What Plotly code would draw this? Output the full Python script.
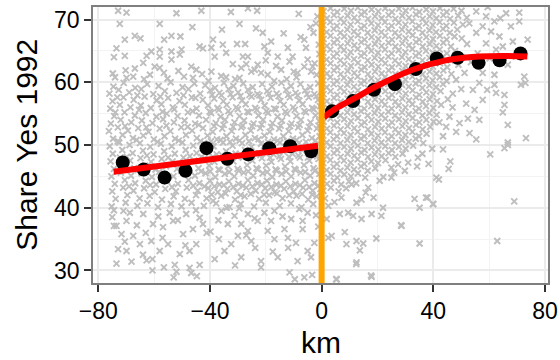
import plotly.graph_objects as go

# ---- binned means (black dots) ----
bin_km_left = [-71.25, -63.75, -56.25, -48.75, -41.25, -33.75, -26.25, -18.75, -11.25, -3.75]
bin_share_left = [47.2, 46.1, 44.8, 45.9, 49.5, 47.8, 48.5, 49.5, 49.8, 49.0]
bin_km_right = [3.75, 11.25, 18.75, 26.25, 33.75, 41.25, 48.75, 56.25, 63.75, 71.25]
bin_share_right = [55.4, 57.0, 58.8, 59.7, 62.1, 63.8, 63.9, 63.1, 63.5, 64.6]

# ---- fitted lines (red) ----
fit_km_left = [-74.5, -37.5, -1.3]
fit_share_left = [45.75, 47.85, 49.88]
fit_km_right = [0.8, 5.0, 11.2, 20.7, 32.6, 44.5, 56.4, 65.0, 73.7]
fit_share_right = [54.4, 55.8, 57.3, 59.6, 62.0, 63.5, 64.1, 64.2, 64.1]

cutoff_km = 0
x_ticks = [-80, -40, 0, 40, 80]
y_ticks = [30, 40, 50, 60, 70]

left_upper = [
    (-72.9,71.4),(-69.9,71.1),(-52.0,71.0),(-43.1,71.4),(-72.3,69.3),(-58.0,69.3),(-46.3,68.8),
    (-70.5,66.8),(-66.9,67.4),(-64.9,67.0),(-56.4,66.8),(-53.8,67.4),(-50.6,67.3),(-73.5,65.4),
    (-74.4,64.0),(-70.5,64.2),(-62.7,64.2),(-61.0,64.9),(-58.0,65.2),(-58.0,64.1),(-53.8,64.9),
    (-53.8,63.6),(-50.2,65.2),(-50.8,64.4),(-43.7,65.7),(-42.5,65.4),(-66.9,62.2),(-63.9,63.1),
    (-59.8,62.5),(-58.0,62.3),(-61.5,61.2),(-69.9,60.7),(-67.5,60.9),(-46.7,62.5),(-44.9,62.0),
    (-46.1,60.7),(-74.8,61.4),(-55.2,60.6),(-51.3,61.8),
    (-26.4,71.8),(-23.1,71.4),(-35.7,68.4),(-29.4,69.3),(-23.5,68.6),(-21.1,67.9),(-2.0,69.4),
    (-2.9,67.9),(-35.4,66.0),(-30.3,66.1),(-27.4,66.1),(-20.5,65.7),(-18.1,66.5),(-19.3,64.7),
    (-12.1,65.5),(-6.2,66.8),(-5.6,65.5),(-10.4,64.1),(-15.7,64.1),(-28.2,64.1),(-26.4,64.1),
    (-38.3,64.1),(-34.2,64.7),(-39.5,65.5),(-38.9,66.8),(-28.8,62.3),(-22.9,62.8),(-24.0,62.0),
    (-16.3,62.6),(-11.5,63.3),(-5.0,63.6),(-3.2,62.5),(-3.8,61.7),(-39.5,61.7),(-36.0,61.0),
    (-34.2,60.8),(-29.4,60.7),(-25.2,61.7),(-21.7,61.5),(-19.3,61.2),(-14.5,62.0),(-8.6,61.5),
    (-6.2,62.5),(-1.5,70.5),(-4.0,68.8),(-1.0,66.0),(-7.5,67.2),(-0.8,64.5),(-2.5,63.0),
    (-9.0,60.8),(-12.5,60.5),(-17.0,60.2),(-31.8,62.9),(-13.6,67.8),(-8.2,70.9),(-32.5,71.2),
    (-74.0,60.8),(-70.2,61.9),(-63.6,60.5),(-56.5,61.5),(-49.3,60.9),(-42.8,61.3),(-40.5,60.2),
    (-31.0,60.5),(-27.0,62.9),(-20.0,63.5),(-10.0,61.7),(-1.8,61.2),
]

left_dense = [
    (-74.6,59.3),(-70.9,59.9),(-66.8,59.1),(-62.5,59.7),(-58.4,59.4),(-54.1,60.0),(-49.8,59.2),(-45.6,59.8),(-41.7,59.5),(-38.2,59.1),(-35.0,59.9),(-31.6,59.4),(-28.1,59.8),(-24.7,59.2),(-21.3,59.7),(-17.8,59.3),(-14.4,59.9),(-11.0,59.4),(-7.6,59.7),(-4.1,59.2),(-1.2,59.8),
    (-76.0,58.2),(-72.7,58.8),(-68.9,58.4),(-64.6,58.9),(-60.3,58.1),(-56.2,58.6),(-52.0,58.3),(-47.7,58.9),(-43.5,58.2),(-39.9,58.7),(-36.6,58.3),(-33.3,58.9),(-29.9,58.4),(-26.4,58.8),(-23.0,58.1),(-19.5,58.6),(-16.1,58.2),(-12.7,58.8),(-9.3,58.3),(-5.9,58.7),(-2.6,58.1),
    (-74.9,57.0),(-71.0,57.6),(-67.3,57.2),(-63.4,57.7),(-59.1,57.1),(-55.0,57.5),(-50.9,57.0),(-46.5,57.6),(-42.6,57.2),(-38.5,57.4),(-35.2,57.0),(-31.9,57.6),(-28.5,57.1),(-25.1,57.7),(-21.7,57.2),(-18.3,57.5),(-14.8,57.0),(-11.4,57.6),(-8.0,57.1),(-4.6,57.6),(-1.3,57.2),
    (-75.7,55.8),(-72.3,56.4),(-68.5,56.0),(-64.8,56.3),(-61.2,55.9),(-57.4,56.5),(-53.3,56.0),(-49.0,56.4),(-44.8,55.8),(-40.7,56.3),(-37.3,55.9),(-34.0,56.4),(-30.6,56.0),(-27.2,56.5),(-23.8,55.9),(-20.4,56.3),(-17.0,55.8),(-13.6,56.4),(-10.2,56.0),(-6.8,56.5),(-3.4,55.9),(-0.6,56.2),
    (-74.3,54.6),(-70.6,55.2),(-66.9,54.7),(-63.0,55.1),(-59.2,54.5),(-55.5,55.0),(-51.6,54.6),(-47.9,55.2),(-43.9,54.7),(-39.6,55.1),(-36.2,54.5),(-32.8,55.0),(-29.4,54.6),(-26.0,55.2),(-22.6,54.7),(-19.2,55.1),(-15.8,54.5),(-12.4,55.0),(-9.0,54.6),(-5.6,55.2),(-2.2,54.7),
    (-75.5,53.4),(-72.0,54.0),(-68.2,53.6),(-64.4,53.9),(-60.6,53.5),(-56.8,54.1),(-52.9,53.6),(-49.1,53.9),(-45.3,53.4),(-41.4,54.0),(-37.9,53.5),(-34.6,54.0),(-31.2,53.6),(-27.8,53.9),(-24.4,53.4),(-21.0,54.0),(-17.6,53.5),(-14.2,53.9),(-10.8,53.4),(-7.4,54.0),(-4.0,53.6),(-0.9,53.8),
    (-76.2,52.2),(-73.0,52.8),(-69.4,52.3),(-65.7,52.7),(-62.0,52.1),(-58.0,52.6),(-54.2,52.2),(-50.3,52.8),(-46.4,52.3),(-42.5,52.7),(-39.0,52.1),(-35.6,52.6),(-32.2,52.2),(-28.8,52.8),(-25.4,52.3),(-22.0,52.7),(-18.6,52.1),(-15.2,52.6),(-11.8,52.2),(-8.4,52.8),(-5.0,52.3),(-1.7,52.6),
    (-74.7,51.0),(-71.3,51.6),(-67.6,51.1),(-63.9,51.5),(-60.1,50.9),(-56.3,51.4),(-52.5,51.0),(-48.6,51.6),(-44.7,51.1),(-40.9,51.5),(-37.5,50.9),(-34.1,51.4),(-30.7,51.0),(-27.3,51.6),(-23.9,51.1),(-20.5,51.5),(-17.1,50.9),(-13.7,51.4),(-10.3,51.0),(-6.9,51.6),(-3.5,51.1),(-0.7,51.4),
    (-75.9,49.8),(-72.5,50.4),(-68.8,50.0),(-65.1,50.3),(-61.4,49.7),(-57.6,50.2),(-53.7,49.8),(-49.9,50.4),(-46.0,49.9),(-42.1,50.3),(-38.7,49.8),(-35.3,50.4),(-31.9,49.9),(-28.5,50.3),(-25.1,49.7),(-21.7,50.2),(-18.3,49.8),(-14.9,50.4),(-11.5,49.9),(-8.1,50.3),(-4.7,49.8),(-1.4,50.2),
    (-74.8,48.6),(-71.4,49.2),(-67.7,48.7),(-64.0,49.1),(-60.2,48.5),(-56.4,49.0),(-52.6,48.6),(-48.7,49.2),(-44.8,48.7),(-41.0,49.1),(-37.6,48.5),(-34.2,49.0),(-30.8,48.6),(-27.4,49.2),(-24.0,48.7),(-20.6,49.1),(-17.2,48.5),(-13.8,49.0),(-10.4,48.6),(-7.0,49.2),(-3.6,48.7),(-0.5,49.0),
    (-75.6,47.4),(-72.2,48.0),(-68.6,47.5),(-64.9,47.9),(-61.1,47.3),(-57.3,47.8),(-53.4,47.4),(-49.5,48.0),(-45.7,47.5),(-41.9,47.9),(-38.4,47.3),(-35.0,47.8),(-31.6,47.4),(-28.2,48.0),(-24.8,47.5),(-21.4,47.9),(-18.0,47.3),(-14.6,47.8),(-11.2,47.4),(-7.8,48.0),(-4.4,47.5),(-1.1,47.8),
    (-74.4,46.2),(-70.8,46.8),(-67.1,46.3),(-63.3,46.7),(-59.5,46.1),(-55.7,46.6),(-51.8,46.2),(-48.0,46.8),(-44.1,46.3),(-40.3,46.7),(-36.9,46.1),(-33.5,46.6),(-30.1,46.2),(-26.7,46.8),(-23.3,46.3),(-19.9,46.7),(-16.5,46.1),(-13.1,46.6),(-9.7,46.2),(-6.3,46.8),(-2.9,46.3),
    (-75.3,45.0),(-71.9,45.6),(-68.3,45.1),(-64.5,45.5),(-60.8,44.9),(-57.0,45.4),(-53.1,45.0),(-49.2,45.6),(-45.4,45.1),(-41.6,45.5),(-38.1,44.9),(-34.7,45.4),(-31.3,45.0),(-27.9,45.6),(-24.5,45.1),(-21.1,45.5),(-17.7,44.9),(-14.3,45.4),(-10.9,45.0),(-7.5,45.6),(-4.1,45.1),(-0.8,45.4),
    (-74.1,43.8),(-70.5,44.4),(-66.8,43.9),(-63.0,44.3),(-59.3,43.7),(-55.4,44.2),(-51.5,43.8),(-47.7,44.4),(-43.8,43.9),(-40.0,44.3),(-36.6,43.7),(-33.2,44.2),(-29.8,43.8),(-26.4,44.4),(-23.0,43.9),(-19.6,44.3),(-16.2,43.7),(-12.8,44.2),(-9.4,43.8),(-6.0,44.4),(-2.6,43.9),
    (-75.0,42.6),(-71.1,43.2),(-67.4,42.7),(-63.6,43.1),(-59.8,42.5),(-56.0,43.0),(-52.2,42.6),(-48.3,43.2),(-44.4,42.7),(-40.6,43.1),(-37.2,42.5),(-33.8,43.0),(-30.4,42.6),(-27.0,43.2),(-23.6,42.7),(-20.2,43.1),(-16.8,42.5),(-13.4,43.0),(-10.0,42.6),(-6.6,43.2),(-3.2,42.7),(-0.4,43.0),
    (-73.8,41.4),(-69.6,42.0),(-65.2,41.5),(-61.6,41.9),(-57.2,41.3),(-53.0,41.8),(-49.0,41.4),(-45.0,42.0),(-41.2,41.5),(-36.0,41.9),(-31.0,41.3),(-27.6,41.8),(-22.4,41.4),(-18.8,42.0),(-14.0,41.5),(-9.0,41.9),(-4.8,41.3),(-1.8,41.8),
    (-75.2,40.2),(-70.2,40.8),(-66.0,40.3),(-62.4,40.7),(-58.6,40.1),(-54.0,40.6),(-50.2,40.2),(-46.6,40.8),(-42.2,40.3),(-37.8,40.7),(-33.0,40.1),(-29.0,40.6),(-24.2,40.2),(-20.0,40.8),(-15.0,40.3),(-11.0,40.7),(-7.2,40.1),(-3.0,40.6),
]

left_fill = [
    (-39.2,58.0),(-35.9,57.9),(-32.6,58.1),(-29.1,57.8),(-25.8,58.0),(-22.3,57.9),(-18.9,58.2),(-15.4,57.8),(-12.0,58.0),(-8.6,57.9),(-5.2,58.1),(-1.9,57.8),
    (-40.1,55.3),(-36.8,55.6),(-33.4,55.4),(-30.0,55.7),(-26.6,55.3),(-23.2,55.6),(-19.8,55.4),(-16.4,55.7),(-13.0,55.3),(-9.6,55.6),(-6.2,55.4),(-2.8,55.7),
    (-38.5,53.0),(-35.1,53.2),(-31.7,52.9),(-28.3,53.1),(-24.9,53.0),(-21.5,53.3),(-18.1,52.9),(-14.7,53.1),(-11.3,53.0),(-7.9,53.2),(-4.5,52.9),(-1.1,53.1),
    (-39.6,50.6),(-36.2,50.8),(-32.8,50.5),(-29.4,50.7),(-26.0,50.6),(-22.6,50.9),(-19.2,50.5),(-15.8,50.7),(-12.4,50.6),(-9.0,50.8),(-5.6,50.5),(-2.2,50.7),
    (-38.9,48.1),(-35.5,48.3),(-32.1,48.0),(-28.7,48.2),(-25.3,48.1),(-21.9,48.4),(-18.5,48.0),(-15.1,48.2),(-11.7,48.1),(-8.3,48.3),(-4.9,48.0),(-1.6,48.2),
    (-39.9,45.8),(-36.5,46.0),(-33.1,45.7),(-29.7,45.9),(-26.3,45.8),(-22.9,46.1),(-19.5,45.7),(-16.1,45.9),(-12.7,45.8),(-9.3,46.0),(-5.9,45.7),(-2.4,45.9),
    (-38.4,43.4),(-35.0,43.6),(-31.6,43.3),(-28.2,43.5),(-24.8,43.4),(-21.4,43.7),(-18.0,43.3),(-14.6,43.5),(-11.2,43.4),(-7.8,43.6),(-4.4,43.3),(-1.2,43.5),
    (-39.4,42.1),(-34.4,42.3),(-29.0,42.0),(-25.4,42.2),(-20.6,42.1),(-16.0,42.3),(-11.6,42.0),(-7.0,42.2),(-3.4,42.1),
    (-73.2,57.6),(-66.0,57.9),(-57.8,57.7),(-49.5,57.9),(-45.2,57.5),
    (-73.9,55.2),(-65.4,55.6),(-57.0,55.3),(-52.8,55.7),(-46.2,55.4),
    (-70.4,53.0),(-62.8,52.8),(-55.6,53.1),(-48.0,52.9),(-44.0,53.2),
    (-73.0,50.6),(-66.3,50.8),(-58.8,50.5),(-51.2,50.7),(-43.4,50.6),
    (-69.8,48.1),(-62.6,48.3),(-55.0,48.0),(-47.2,48.2),(-43.0,48.1),
    (-73.0,45.8),(-65.8,46.0),(-58.2,45.7),(-50.4,45.9),(-43.2,45.8),
    (-69.0,43.4),(-61.4,43.6),(-53.6,43.3),(-46.0,43.5),(-42.0,43.4),
]

left_lower = [
    (-73.5,37.1),(-69.9,37.9),(-71.7,35.8),(-67.5,35.5),(-72.9,33.4),(-69.9,33.1),(-73.5,31.1),
    (-68.1,31.4),(-62.7,31.6),(-60.6,31.8),(-60.6,30.0),(-56.5,30.5),(-52.6,30.9),(-52.0,29.8),
    (-47.3,30.4),(-46.7,29.6),(-43.7,30.9),(-65.1,34.2),(-61.0,34.7),(-58.0,33.1),(-55.0,34.2),
    (-50.8,32.6),(-47.3,33.1),(-44.9,34.2),(-60.4,37.4),(-56.8,36.9),(-53.2,37.9),(-49.6,35.8),
    (-46.1,36.6),(-42.5,37.4),(-63.9,39.0),(-68.7,39.2),(-54.4,39.2),(-48.5,39.0),(-43.7,38.4),
    (-74.4,39.6),(-74.4,37.1),(-53.0,28.9),(-44.7,29.1),
    (-38.9,41.1),(-35.9,39.5),(-33.6,37.4),(-30.0,35.5),(-28.8,37.4),(-26.4,36.3),(-22.9,37.9),
    (-19.3,36.3),(-16.9,35.0),(-12.1,35.2),(-9.2,34.4),(-6.8,36.6),(-5.0,33.1),(-3.8,32.1),
    (-34.8,33.1),(-38.3,31.8),(-28.8,32.1),(-21.7,31.5),(-21.7,30.5),(-15.7,32.1),(-8.6,31.5),
    (-2.6,34.4),(-6.2,28.9),(-9.6,28.6),(-11.5,29.7),(-25.2,34.7),(-32.4,34.2),(-13.3,36.6),
    (-10.9,38.2),(-18.1,37.9),(-26.4,39.0),(-31.2,38.7),(-16.9,39.5),(-5.0,39.2),(-6.8,37.9),
    (-39.8,36.2),(-36.8,35.0),(-23.8,33.6),(-1.2,37.0),(-3.4,29.3),
    (-75.0,38.5),(-71.0,39.5),(-66.2,37.2),(-63.0,36.0),(-58.5,38.6),(-51.5,38.0),(-45.0,39.6),
    (-41.2,36.0),(-57.0,35.2),(-64.0,32.5),(-70.5,34.6),(-48.8,34.0),
    (-37.0,38.0),(-34.0,40.0),(-29.5,39.9),(-24.0,38.3),(-20.5,39.2),(-14.0,38.6),(-8.0,39.8),
    (-2.0,38.8),(-27.0,35.6),(-17.5,33.0),(-12.0,33.6),(-31.0,30.8),
]

right_dense = [
    (0.7,71.3),(3.2,71.8),(5.6,71.2),(8.1,71.7),(10.5,71.4),(13.0,71.9),(15.4,71.2),(17.9,71.6),(20.3,71.3),(22.8,71.8),(25.2,71.2),(27.7,71.7),(30.1,71.4),(32.6,71.9),(35.0,71.2),(37.5,71.6),(39.9,71.3),(42.4,71.8),(44.8,71.2),(47.3,71.7),(50.1,71.4),
    (1.9,70.2),(4.4,70.7),(6.8,70.1),(9.3,70.6),(11.7,70.3),(14.2,70.8),(16.6,70.1),(19.1,70.5),(21.5,70.2),(24.0,70.7),(26.4,70.1),(28.9,70.6),(31.3,70.3),(33.8,70.8),(36.2,70.1),(38.7,70.5),(41.1,70.2),(43.6,70.7),(46.0,70.1),(48.9,70.6),(52.0,70.3),
    (0.6,69.1),(3.1,69.6),(5.5,69.0),(8.0,69.5),(10.4,69.2),(12.9,69.7),(15.3,69.0),(17.8,69.4),(20.2,69.1),(22.7,69.6),(25.1,69.0),(27.6,69.5),(30.0,69.2),(32.5,69.7),(34.9,69.0),(37.4,69.4),(39.8,69.1),(42.3,69.6),(44.7,69.0),(47.4,69.5),(50.6,69.2),
    (1.8,68.0),(4.3,68.5),(6.7,67.9),(9.2,68.4),(11.6,68.1),(14.1,68.6),(16.5,67.9),(19.0,68.3),(21.4,68.0),(23.9,68.5),(26.3,67.9),(28.8,68.4),(31.2,68.1),(33.7,68.6),(36.1,67.9),(38.6,68.3),(41.0,68.0),(43.5,68.5),(45.9,67.9),(48.6,68.4),
    (0.7,66.9),(3.2,67.4),(5.6,66.8),(8.1,67.3),(10.5,67.0),(13.0,67.5),(15.4,66.8),(17.9,67.2),(20.3,66.9),(22.8,67.4),(25.2,66.8),(27.7,67.3),(30.1,67.0),(32.6,67.5),(35.0,66.8),(37.5,67.2),(39.9,66.9),(42.4,67.4),(44.8,66.8),(47.6,67.3),(50.2,67.0),
    (1.9,65.8),(4.4,66.3),(6.8,65.7),(9.3,66.2),(11.7,65.9),(14.2,66.4),(16.6,65.7),(19.1,66.1),(21.5,65.8),(24.0,66.3),(26.4,65.7),(28.9,66.2),(31.3,65.9),(33.8,66.4),(36.2,65.7),(38.7,66.1),(41.1,65.8),(43.6,66.3),(46.3,65.7),
    (0.6,64.7),(3.1,65.2),(5.5,64.6),(8.0,65.1),(10.4,64.8),(12.9,65.3),(15.3,64.6),(17.8,65.0),(20.2,64.7),(22.7,65.2),(25.1,64.6),(27.6,65.1),(30.0,64.8),(32.5,65.3),(34.9,64.6),(37.4,65.0),(39.8,64.7),(42.3,65.2),(44.9,64.6),(47.8,65.0),
    (1.8,63.6),(4.3,64.1),(6.7,63.5),(9.2,64.0),(11.6,63.7),(14.1,64.2),(16.5,63.5),(19.0,63.9),(21.4,63.6),(23.9,64.1),(26.3,63.5),(28.8,64.0),(31.2,63.7),(33.7,64.2),(36.1,63.5),(38.6,63.9),(41.0,63.6),(43.5,64.1),(46.2,63.5),
    (0.7,62.5),(3.2,63.0),(5.6,62.4),(8.1,62.9),(10.5,62.6),(13.0,63.1),(15.4,62.4),(17.9,62.8),(20.3,62.5),(22.8,63.0),(25.2,62.4),(27.7,62.9),(30.1,62.6),(32.6,63.1),(35.0,62.4),(37.5,62.8),(39.9,62.5),(42.4,63.0),(45.0,62.4),
    (1.9,61.4),(4.4,61.9),(6.8,61.3),(9.3,61.8),(11.7,61.5),(14.2,62.0),(16.6,61.3),(19.1,61.7),(21.5,61.4),(24.0,61.9),(26.4,61.3),(28.9,61.8),(31.3,61.5),(33.8,62.0),(36.2,61.3),(38.7,61.7),(41.1,61.4),(43.6,61.9),(46.5,61.3),
    (0.6,60.3),(3.1,60.8),(5.5,60.2),(8.0,60.7),(10.4,60.4),(12.9,60.9),(15.3,60.2),(17.8,60.6),(20.2,60.3),(22.7,60.8),(25.1,60.2),(27.6,60.7),(30.0,60.4),(32.5,60.9),(34.9,60.2),(37.4,60.6),(39.8,60.3),(42.3,60.8),(44.8,60.2),
    (1.8,59.2),(4.3,59.7),(6.7,59.1),(9.2,59.6),(11.6,59.3),(14.1,59.8),(16.5,59.1),(19.0,59.5),(21.4,59.2),(23.9,59.7),(26.3,59.1),(28.8,59.6),(31.2,59.3),(33.7,59.8),(36.1,59.1),(38.6,59.5),(41.0,59.2),(43.5,59.7),
    (0.7,58.1),(3.2,58.6),(5.6,58.0),(8.1,58.5),(10.5,58.2),(13.0,58.7),(15.4,58.0),(17.9,58.4),(20.3,58.1),(22.8,58.6),(25.2,58.0),(27.7,58.5),(30.1,58.2),(32.6,58.7),(35.0,58.0),(37.5,58.4),(39.9,58.1),(42.6,58.6),
    (1.9,57.0),(4.4,57.5),(6.8,56.9),(9.3,57.4),(11.7,57.1),(14.2,57.6),(16.6,56.9),(19.1,57.3),(21.5,57.0),(24.0,57.5),(26.4,56.9),(28.9,57.4),(31.3,57.1),(33.8,57.6),(36.2,56.9),(38.7,57.3),(41.3,57.0),
    (0.6,55.9),(3.1,56.4),(5.5,55.8),(8.0,56.3),(10.4,56.0),(12.9,56.5),(15.3,55.8),(17.8,56.2),(20.2,55.9),(22.7,56.4),(25.1,55.8),(27.6,56.3),(30.0,56.0),(32.5,56.5),(34.9,55.8),(37.4,56.2),(40.0,55.9),(42.8,56.4),
    (1.8,54.8),(4.3,55.3),(6.7,54.7),(9.2,55.2),(11.6,54.9),(14.1,55.4),(16.5,54.7),(19.0,55.1),(21.4,54.8),(23.9,55.3),(26.3,54.7),(28.8,55.2),(31.2,54.9),(33.7,55.4),(36.1,54.7),(38.6,55.1),(41.2,54.8),
    (0.7,53.7),(3.2,54.2),(5.6,53.6),(8.1,54.1),(10.5,53.8),(13.0,54.3),(15.4,53.6),(17.9,54.0),(20.3,53.7),(22.8,54.2),(25.2,53.6),(27.7,54.1),(30.1,53.8),(32.6,54.3),(35.0,53.6),(37.5,54.0),(40.1,53.7),
    (1.9,52.6),(4.4,53.1),(6.8,52.5),(9.3,53.0),(11.7,52.7),(14.2,53.2),(16.6,52.5),(19.1,52.9),(21.5,52.6),(24.0,53.1),(26.4,52.5),(28.9,53.0),(31.3,52.7),(33.8,53.2),(36.2,52.5),(38.9,52.9),
    (0.6,51.5),(3.1,52.0),(5.5,51.4),(8.0,51.9),(10.4,51.6),(12.9,52.1),(15.3,51.4),(17.8,51.8),(20.2,51.5),(22.7,52.0),(25.1,51.4),(27.6,51.9),(30.0,51.6),(32.5,52.1),(34.9,51.4),(37.6,51.8),
    (1.8,50.4),(4.3,50.9),(6.7,50.3),(9.2,50.8),(11.6,50.5),(14.1,51.0),(16.5,50.3),(19.0,50.7),(21.4,50.4),(23.9,50.9),(26.3,50.3),(28.8,50.8),(31.2,50.5),(33.7,51.0),(36.4,50.3),
    (0.7,49.3),(3.2,49.8),(5.6,49.2),(8.1,49.7),(10.5,49.4),(13.0,49.9),(15.4,49.2),(17.9,49.6),(20.3,49.3),(22.8,49.8),(25.2,49.2),(27.7,49.7),(30.1,49.4),(32.8,49.9),
    (1.9,48.2),(4.4,48.7),(6.8,48.1),(9.3,48.6),(11.7,48.3),(14.2,48.8),(16.6,48.1),(19.1,48.5),(21.5,48.2),(24.0,48.7),(26.4,48.1),(29.0,48.6),
    (0.6,47.1),(3.1,47.6),(5.5,47.0),(8.0,47.5),(10.4,47.2),(12.9,47.7),(15.3,47.0),(17.8,47.4),(20.2,47.1),(22.9,47.6),
    (1.8,46.0),(4.3,46.5),(6.7,45.9),(9.2,46.4),(11.6,46.1),(14.1,46.6),(16.5,45.9),(19.2,46.3),
    (0.7,44.9),(3.2,45.4),(5.6,44.8),(8.1,45.3),(10.5,45.0),(13.0,45.5),(15.6,44.8),
    (1.9,43.8),(4.4,44.3),(7.0,43.7),(9.8,44.2),(12.4,43.9),
    (0.6,42.7),(3.3,43.2),(6.1,42.6),(8.8,43.1),
]

right_sparse = [
    (55.4,71.3),(58.9,70.5),(61.9,69.7),(66.1,71.0),(70.8,71.1),(70.8,69.7),(60.7,68.1),(63.7,67.3),
    (68.5,66.5),(73.8,66.8),(64.9,65.7),(58.9,66.2),(55.4,67.9),(52.9,69.4),(57.7,68.9),(62.5,65.2),
    (69.6,64.1),(66.7,62.8),(72.6,60.9),(73.0,59.9),(71.4,59.6),(61.9,61.2),(61.9,59.6),(62.5,58.3),
    (65.5,58.0),(65.5,56.4),(64.9,55.2),(66.7,53.2),(73.2,51.1),(66.7,50.4),(55.4,50.9),(53.0,51.9),
    (56.5,54.0),(54.8,55.6),(57.7,57.2),(51.8,56.6),(48.2,52.1),(45.8,54.5),(49.4,53.5),(43.5,51.4),
    (59.3,58.8),(56.5,59.9),(54.2,58.8),(48.2,60.4),(51.2,61.5),(57.7,61.5),(53.5,63.2),(50.4,64.0),
    (55.9,64.6),(52.1,66.1),(49.0,62.8),(47.0,58.2),(50.0,58.9),(45.2,57.3),(44.6,52.9),(42.2,53.6),
    (46.9,56.0),(52.4,54.2),(60.2,63.8),(67.8,68.9),(64.0,70.2),(59.5,72.0),
    (43.5,49.3),(46.1,47.4),(45.5,46.2),(42.0,44.5),(60.4,48.5),(65.5,49.5),(66.7,50.0),(69.0,41.0),
    (62.9,34.7),(38.3,47.0),(36.1,48.6),(34.2,46.6),(31.0,47.2),(26.0,45.6),(22.1,44.9),(39.6,49.4),
    (10.7,43.7),(14.3,41.3),(12.5,40.8),(7.1,41.6),(2.4,40.3),(6.5,39.0),(9.5,39.2),(11.3,38.7),
    (14.3,38.2),(17.9,39.0),(22.0,40.0),(21.4,38.7),(28.6,37.1),(33.3,41.4),(35.1,40.0),(37.9,41.6),
    (39.9,40.6),(1.8,38.2),(3.6,35.5),(8.3,36.1),(8.9,34.2),(12.5,34.7),(14.9,34.3),(13.7,33.2),
    (19.6,35.1),(35.1,34.3),(12.5,31.3),(5.4,28.6),(17.9,29.0),(2.4,35.2),(16.7,43.2),(20.8,44.3),
    (25.0,46.4),(29.8,45.9),(34.5,48.0),(41.1,44.8),(25.0,44.8),(27.4,46.9),(37.4,41.6),(40.0,40.6),
    (28.5,37.2),(12.4,31.0),(5.2,28.6),(17.7,29.2),(4.6,40.9),(15.8,42.4),(18.6,41.6),(1.2,41.5),
]

all_pts = left_upper + left_dense + left_fill + left_lower + right_dense + right_sparse
obs_km = [p[0] for p in all_pts]
obs_share = [p[1] for p in all_pts]

GREY = "#BEBEBE"
fig = go.Figure()
fig.add_trace(go.Scatter(
    x=obs_km, y=obs_share, mode="markers",
    marker=dict(symbol="x-thin", size=6, color=GREY, line=dict(color=GREY, width=1.9)),
    hoverinfo="skip"))
for bx, by in ((bin_km_left, bin_share_left), (bin_km_right, bin_share_right)):
    fig.add_trace(go.Scatter(x=bx, y=by, mode="markers",
                             marker=dict(size=14, color="black")))
for fx, fy in ((fit_km_left, fit_share_left), (fit_km_right, fit_share_right)):
    fig.add_trace(go.Scatter(x=fx, y=fy, mode="lines",
                             line=dict(color="#FF0000", width=6, shape="spline")))
fig.add_trace(go.Scatter(x=[cutoff_km, cutoff_km], y=[20, 80], mode="lines",
                         line=dict(color="#FFA500", width=6)))

FONT = "Liberation Sans, Arial, Helvetica, sans-serif"
axis_common = dict(
    showgrid=True, gridcolor="#EBEBEB", gridwidth=1.5,
    showline=True, mirror=True, linecolor="#7F7F7F", linewidth=1.5,
    zeroline=False, ticks="outside", ticklen=7, tickwidth=2, tickcolor="#333333",
    tickfont=dict(size=23, color="black", family=FONT), automargin=False,
)
fig.update_layout(
    width=560, height=360,
    margin=dict(l=93, r=12, t=7, b=77),
    plot_bgcolor="white", paper_bgcolor="white",
    showlegend=False,
    font=dict(family=FONT, color="black"),
    xaxis=dict(range=[-81.9, 81.1], tickmode="array", tickvals=x_ticks,
               minor=dict(dtick=20, tick0=-80, showgrid=True, gridcolor="#F3F3F3", gridwidth=1),
               **axis_common),
    yaxis=dict(range=[28, 72], tickmode="array", tickvals=y_ticks,
               minor=dict(dtick=5, tick0=30, showgrid=True, gridcolor="#F3F3F3", gridwidth=1),
               **axis_common),
    annotations=[
        dict(text="km", xref="paper", yref="paper", x=0.5, y=-0.2156,
             xanchor="center", yanchor="middle", showarrow=False,
             font=dict(size=30, color="black", family=FONT)),
        dict(text="Share Yes 1992", xref="paper", yref="paper", x=-0.148, y=0.5,
             xanchor="center", yanchor="middle", textangle=-90, showarrow=False,
             font=dict(size=30, color="black", family=FONT)),
    ],
)
fig.write_html("out.html", config={"displayModeBar": False},
               post_script="document.body.style.margin='0px';document.body.style.padding='0px';")
